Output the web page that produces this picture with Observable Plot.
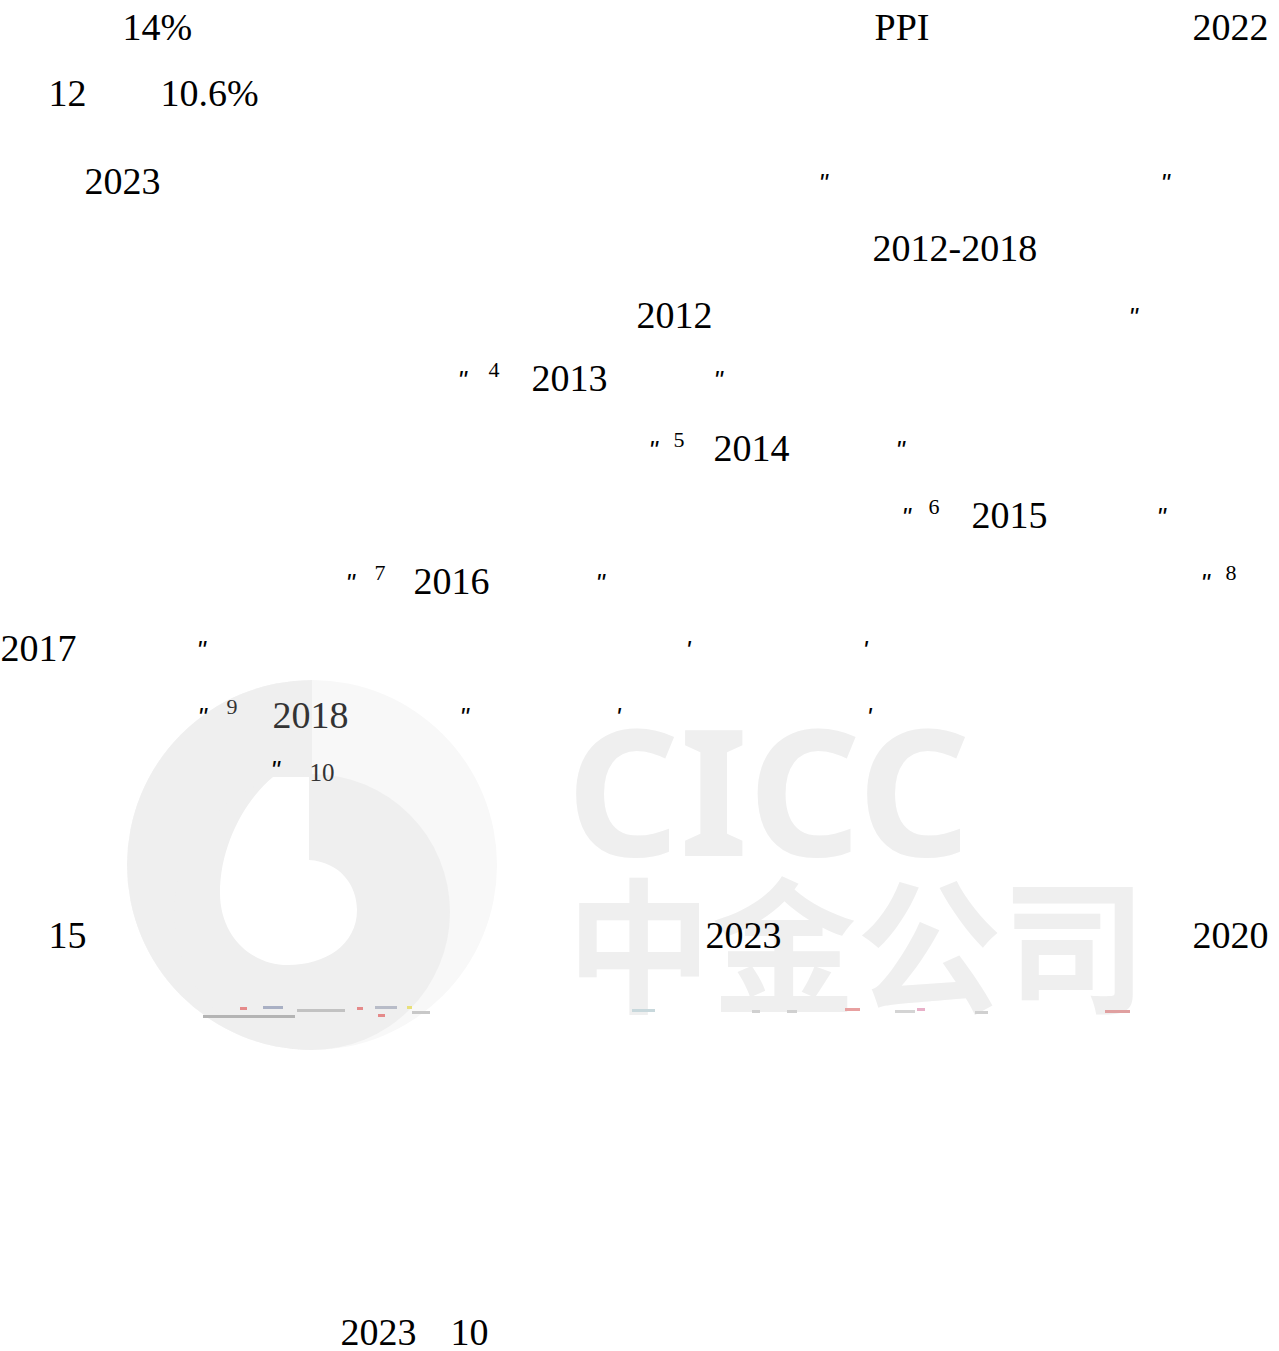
<!DOCTYPE html>
<html>
<head>
<meta charset="utf-8">
<script src="https://cdn.jsdelivr.net/npm/d3@7"></script>
<script src="https://cdn.jsdelivr.net/npm/@observablehq/plot@0.6"></script>
<style>
  html, body { margin: 0; padding: 0; background: #ffffff; }
  #chart svg { display: block; }
</style>
</head>
<body>
<div id="chart"></div>
<script>
// ---- page size ----
const pageWidth = 1279;
const pageHeight = 1351;

// ---- text lines (baseline of each line, in page pixels) ----
const lineNumbers   = [1, 2, 3, 4, 5, 6, 7, 8, 9, 10, 11, 12, 13, 14];
const lineBaselines = [39, 105, 193, 260, 327, 390, 460, 527, 593, 660, 727, 780, 947, 1344];

// ---- text tokens that survived rendering (Latin / digits) ----
const tokenText = [
  "14%", "PPI", "2022",
  "12", "10.6%",
  "2023", "\"", "\"",
  "2012-2018",
  "2012", "\"",
  "\"", "4", "2013", "\"",
  "\"", "5", "2014", "\"",
  "\"", "6", "2015", "\"",
  "\"", "7", "2016", "\"", "\"", "8",
  "2017", "\"", "'", "'",
  "\"", "9", "2018", "\"", "'", "'",
  "\"", "10",
  "15", "2023", "2020",
  "2023", "10"
];
const tokenLine = [
  1, 1, 1,
  2, 2,
  3, 3, 3,
  4,
  5, 5,
  6, 6, 6, 6,
  7, 7, 7, 7,
  8, 8, 8, 8,
  9, 9, 9, 9, 9, 9,
  10, 10, 10, 10,
  11, 11, 11, 11, 11, 11,
  12, 12,
  13, 13, 13,
  14, 14
];
const tokenColumn = [
  122, 874, 1192,
  48, 160,
  84, 818, 1160,
  872,
  636, 1128,
  457, 488, 531, 713,
  648, 673, 713, 895,
  901, 928, 971, 1156,
  345, 374, 413, 595, 1200, 1225,
  0, 196, 685, 862,
  197, 226, 272, 459, 615, 866,
  270, 309,
  48, 705, 1192,
  340, 450
];
const tokenKind = [
  "body", "body", "body",
  "body", "body",
  "body", "quote", "quote",
  "body",
  "body", "quote",
  "quote", "sup", "body", "quote",
  "quote", "sup", "body", "quote",
  "quote", "sup", "body", "quote",
  "quote", "sup", "body", "quote", "quote", "sup",
  "body", "quote", "quote", "quote",
  "quote", "supGrey", "bodyGrey", "quote", "quote", "quote",
  "quote", "smallGrey",
  "body", "body", "body",
  "body", "body"
];

// ---- watermark words ----
const watermarkText   = ["CICC", "中金公司"];
const watermarkColumn = [566, 566];
const watermarkBase   = [855, 1001];

// ---- broken legend fragments under the watermark ----
const fragX1 = [203, 263, 240, 297, 357, 375, 378, 407, 412, 632, 752, 787, 845, 895, 917, 975, 1105];
const fragX2 = [295, 283, 247, 345, 363, 397, 385, 412, 430, 655, 760, 797, 860, 915, 925, 988, 1130];
const fragY  = [1016, 1007, 1008, 1010, 1008, 1007, 1015, 1007, 1012, 1010, 1011, 1011, 1009, 1011, 1009, 1012, 1011];
const fragC  = ["#b4b4b4", "#a9b0c4", "#e58a8a", "#c2c2c2", "#e58a8a", "#b8bcc8", "#e58a8a", "#e8e07a", "#c8c8c8",
                "#c8d8dc", "#d0d0d0", "#d0d0d0", "#e8a0a0", "#d4d4d4", "#e8b0c8", "#d0d0d0", "#e0a0a0"];

// ---- build tables ----
const baselineOf = new Map(lineNumbers.map((n, i) => [n, lineBaselines[i]]));
const tokens = tokenText.map((t, i) => ({
  text: t, x: tokenColumn[i], y: baselineOf.get(tokenLine[i]), kind: tokenKind[i]
}));
const watermark = watermarkText.map((t, i) => ({text: t, x: watermarkColumn[i], y: watermarkBase[i]}));
const frags = fragX1.map((x1, i) => ({x1, x2: fragX2[i], y: fragY[i], c: fragC[i]}));

const serif = "'Liberation Serif', 'Times New Roman', Times, serif";
const of = k => tokens.filter(d => d.kind === k);

// CICC round logo, drawn through the plot's scales
function logo(index, {x, y}) {
  const g = d3.create("svg:g").attr("aria-label", "logo");
  const cx = 312, cy = 865, R = 185;
  const len = v => x(v) - x(0);
  g.append("circle").attr("cx", x(cx)).attr("cy", y(cy)).attr("r", len(R)).attr("fill", "#f8f8f8");
  const left = d3.path();
  left.moveTo(x(cx), y(cy - R));
  left.arc(x(cx), y(cy), len(R), -Math.PI / 2, Math.PI / 2, true);
  left.closePath();
  g.append("path").attr("d", left.toString()).attr("fill", "#efefef");
  g.append("circle").attr("cx", x(cx)).attr("cy", y(cy + 47)).attr("r", len(138)).attr("fill", "#efefef");
  const hole = d3.path();
  hole.moveTo(x(cx - 3), y(777));
  hole.lineTo(x(cx - 3), y(860));
  hole.bezierCurveTo(x(340), y(862), x(357), y(885), x(357), y(910));
  hole.bezierCurveTo(x(357), y(945), x(325), y(965), x(288), y(965));
  hole.bezierCurveTo(x(250), y(965), x(220), y(935), x(220), y(893));
  hole.bezierCurveTo(x(220), y(845), x(245), y(800), x(273), y(777));
  hole.closePath();
  g.append("path").attr("d", hole.toString()).attr("fill", "#ffffff");
  return g.node();
}

const common = {x: "x", y: "y", text: "text", textAnchor: "start", lineAnchor: "bottom", fontFamily: serif};

const chart = Plot.plot({
  width: pageWidth,
  height: pageHeight,
  margin: 0,
  x: {domain: [0, pageWidth], range: [0, pageWidth], axis: null},
  y: {domain: [0, pageHeight], range: [0, pageHeight], axis: null},
  color: {type: "identity"},
  style: {background: "#ffffff", overflow: "visible"},
  marks: [
    logo,
    Plot.text(watermark.slice(0, 1), {x: "x", y: "y", text: "text", textAnchor: "start", lineAnchor: "bottom",
      fontFamily: "'Noto Sans', 'DejaVu Sans', sans-serif", fontWeight: 700, fontSize: 176, fill: "#efefef", ariaLabel: "watermark-en"}),
    Plot.text(watermark.slice(1), {x: "x", y: "y", text: "text", textAnchor: "start", lineAnchor: "bottom",
      fontFamily: "'Noto Sans CJK SC', sans-serif", fontWeight: 700, fontSize: 145, fill: "#efefef", ariaLabel: "watermark-cn"}),
    Plot.ruleY(frags, {y: "y", x1: "x1", x2: "x2", stroke: "c", strokeWidth: 3}),
    Plot.text(of("body"), {...common, fontSize: 38, fill: "#000"}),
    Plot.text(of("bodyGrey"), {...common, fontSize: 38, fill: "#333"}),
    Plot.text(of("sup"), {...common, fontSize: 22, dy: -14, fill: "#000"}),
    Plot.text(of("supGrey"), {...common, fontSize: 22, dy: -14, fill: "#333"}),
    Plot.text(of("smallGrey"), {...common, fontSize: 25, fill: "#333"}),
    Plot.text(of("quote"), {...common, fontFamily: "'Liberation Sans', Arial, sans-serif", fontStyle: "italic",
      fontSize: 26, dy: -2, fill: "#000"})
  ]
});

document.getElementById("chart").appendChild(chart);
// stretch the watermark word to its measured width
d3.select(chart).selectAll("g[aria-label='watermark-en'] text")
  .attr("textLength", 475).attr("lengthAdjust", "spacingAndGlyphs");
</script>
</body>
</html>
